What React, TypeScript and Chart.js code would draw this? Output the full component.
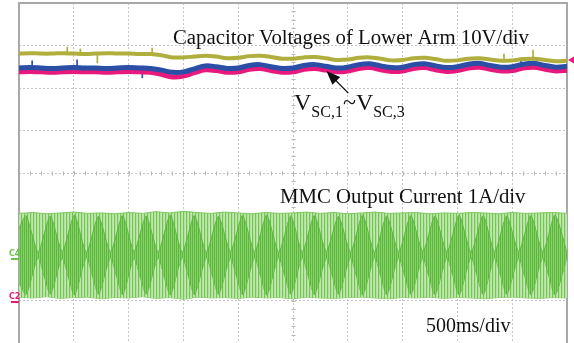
import React, { useEffect, useRef } from "react";
import { Chart, registerables } from "chart.js";

Chart.register(...registerables);

// ---- Data (x in divisions, 500 ms/div; y in divisions) ----
const timeDiv = [
  0, 0.2, 0.4, 0.6, 0.8, 1.0, 1.2, 1.4, 1.6, 1.8, 2.0, 2.2, 2.4, 2.6, 2.8, 3.0, 3.2, 3.4, 3.6, 3.8,
  4.0, 4.2, 4.4, 4.6, 4.8, 5.0, 5.2, 5.4, 5.6, 5.8, 6.0, 6.2, 6.4, 6.6, 6.8, 7.0, 7.2, 7.4, 7.6, 7.8,
  8.0, 8.2, 8.4, 8.6, 8.8, 9.0, 9.2, 9.4, 9.6, 9.8, 10.0,
];
const yellowTrace = [
  2.81, 2.82, 2.81, 2.81, 2.82, 2.81, 2.80, 2.81, 2.82, 2.81, 2.81, 2.80, 2.80, 2.77, 2.72, 2.72, 2.74, 2.76, 2.74, 2.70,
  2.71, 2.75, 2.76, 2.73, 2.69, 2.69, 2.72, 2.73, 2.70, 2.66, 2.67, 2.71, 2.72, 2.69, 2.65, 2.66, 2.70, 2.71, 2.68, 2.64,
  2.65, 2.69, 2.70, 2.67, 2.64, 2.65, 2.68, 2.69, 2.66, 2.63, 2.64,
];
const blueTrace = [
  2.47, 2.48, 2.47, 2.46, 2.47, 2.48, 2.47, 2.47, 2.46, 2.47, 2.48, 2.47, 2.46, 2.42, 2.37, 2.38, 2.45, 2.52, 2.50, 2.46,
  2.47, 2.53, 2.55, 2.50, 2.46, 2.47, 2.53, 2.55, 2.51, 2.47, 2.49, 2.55, 2.57, 2.52, 2.48, 2.49, 2.55, 2.57, 2.52, 2.48,
  2.50, 2.56, 2.58, 2.53, 2.49, 2.50, 2.56, 2.58, 2.53, 2.49, 2.51,
];
const pinkTrace = [
  2.38, 2.39, 2.38, 2.37, 2.38, 2.39, 2.38, 2.38, 2.37, 2.38, 2.39, 2.38, 2.37, 2.32, 2.26, 2.28, 2.36, 2.43, 2.41, 2.37,
  2.38, 2.44, 2.46, 2.41, 2.37, 2.38, 2.44, 2.46, 2.42, 2.38, 2.40, 2.46, 2.48, 2.43, 2.39, 2.40, 2.46, 2.48, 2.43, 2.39,
  2.41, 2.47, 2.49, 2.44, 2.40, 2.41, 2.47, 2.49, 2.44, 2.40, 2.42,
];

const yellowSpikeX = [0.88, 1.12, 1.43, 2.43, 8.85, 9.38];
const yellowSpikeLo = [2.80, 2.80, 2.59, 2.79, 2.64, 2.66];
const yellowSpikeHi = [2.96, 2.92, 2.80, 2.94, 2.80, 2.89];
const blueSpikeX = [0.24, 1.06, 2.25, 9.16];
const blueSpikeLo = [2.46, 2.46, 2.24, 2.52];
const blueSpikeHi = [2.64, 2.66, 2.45, 2.66];

const bandX = [
  0, 0.25, 0.5, 0.75, 1.0, 1.25, 1.5, 1.75, 2.0, 2.25, 2.5, 2.75, 3.0, 3.25, 3.5, 3.75, 4.0, 4.25, 4.5, 4.75,
  5.0, 5.25, 5.5, 5.75, 6.0, 6.25, 6.5, 6.75, 7.0, 7.25, 7.5, 7.75, 8.0, 8.25, 8.5, 8.75, 9.0, 9.25, 9.5, 9.75, 10.0,
];
const currentUpper = [
  -0.95, -0.93, -0.96, -0.94, -0.92, -0.95, -0.94, -0.96, -0.93, -0.95, -0.91, -0.94, -0.90, -0.93, -0.95, -0.92, -0.94, -0.96, -0.93, -0.95,
  -0.94, -0.92, -0.95, -0.93, -0.96, -0.94, -0.92, -0.95, -0.94, -0.93, -0.96, -0.94, -0.95, -0.93, -0.94, -0.96, -0.93, -0.95, -0.94, -0.93, -0.95,
];
const currentLower = [
  -2.92, -2.94, -2.91, -2.95, -2.93, -2.92, -2.96, -2.93, -2.94, -2.91, -2.95, -2.93, -2.97, -2.92, -2.94, -2.93, -2.95, -2.92, -2.94, -2.93,
  -2.96, -2.92, -2.94, -2.95, -2.93, -2.92, -2.94, -2.96, -2.93, -2.94, -2.92, -2.95, -2.93, -2.94, -2.96, -2.93, -2.92, -2.94, -2.95, -2.93, -2.94,
];

const lensX = [
  0, 0.13, 0.35, 0.57, 0.79, 1.01, 1.23, 1.45, 1.67, 1.89, 2.10, 2.32, 2.54, 2.76, 2.98, 3.20, 3.42, 3.64, 3.86, 4.08,
  4.30, 4.52, 4.74, 4.96, 5.17, 5.39, 5.61, 5.83, 6.05, 6.27, 6.49, 6.71, 6.93, 7.15, 7.37, 7.59, 7.81, 8.03, 8.25, 8.47,
  8.68, 8.90, 9.12, 9.34, 9.56, 9.78, 10.0,
];
const lensUpper = [
  -1.30, -1.00, -1.86, -1.01, -1.85, -0.99, -1.87, -1.02, -1.86, -1.00, -1.85, -1.01, -1.86, -0.99, -1.87, -1.00, -1.86, -1.02, -1.85, -1.00,
  -1.86, -0.99, -1.87, -1.01, -1.86, -1.00, -1.85, -1.02, -1.86, -0.99, -1.87, -1.01, -1.86, -1.00, -1.85, -1.01, -1.86, -0.99, -1.87, -1.00,
  -1.86, -1.01, -1.85, -1.00, -1.86, -0.99, -1.87,
];
const lensLower = [
  -2.58, -2.86, -2.00, -2.85, -2.01, -2.87, -1.99, -2.85, -2.00, -2.86, -2.01, -2.85, -2.00, -2.87, -1.99, -2.86, -2.00, -2.85, -2.01, -2.86,
  -2.00, -2.87, -1.99, -2.85, -2.00, -2.86, -2.01, -2.85, -2.00, -2.87, -1.99, -2.86, -2.00, -2.85, -2.01, -2.86, -2.00, -2.87, -1.99, -2.86,
  -2.00, -2.85, -2.01, -2.86, -2.00, -2.87, -1.99,
];

const topTitle = "Capacitor Voltages of Lower Arm 10V/div";
const bottomTitle = "MMC Output Current 1A/div";
const timeBase = "500ms/div";
const vLabelMain = "V";
const vSub1 = "SC,1";
const vSub3 = "SC,3";
const tilde = "~";
const ch4Label = "C4";
const ch2Label = "C2";
const ch4Level = -2.02;
const ch2Level = -3.03;
const rightMarkerLevel = 2.66;
const arrowTail = { x: 6.01, y: 1.88 };
const arrowTip = { x: 5.61, y: 2.40 };

const zip = (xs: number[], ys: number[]) => xs.map((x, i) => ({ x, y: ys[i] }));
const zipFloat = (xs: number[], lo: number[], hi: number[]) => xs.map((x, i) => ({ x, y: [lo[i], hi[i]] }));

function stripes(colors: string[]): CanvasPattern | string {
  const c = document.createElement("canvas");
  c.width = colors.length;
  c.height = 2;
  const g = c.getContext("2d");
  if (!g) return colors[0];
  colors.forEach((col, i) => {
    g.fillStyle = col;
    g.fillRect(i, 0, 1, 2);
  });
  const p = g.createPattern(c, "repeat");
  return p || colors[0];
}

const SERIF = '"Liberation Serif", "Times New Roman", serif';

const scopePlugin = {
  id: "scopeDecor",
  beforeDatasetsDraw(chart: any) {
    const { ctx, chartArea, scales } = chart;
    const xs = scales.x;
    const ys = scales.y;
    ctx.save();
    ctx.strokeStyle = "#b4b4b4";
    ctx.lineWidth = 1;
    const y0 = Math.round(ys.getPixelForValue(0)) + 0.5;
    const x0 = Math.round(xs.getPixelForValue(5)) + 0.5;
    ctx.beginPath();
    for (let v = 0; v <= 50; v++) {
      const px = Math.round(xs.getPixelForValue(v * 0.2)) + 0.5;
      ctx.moveTo(px, y0 - 2);
      ctx.lineTo(px, y0 + 2);
    }
    for (let v = 0; v <= 40; v++) {
      const py = Math.round(ys.getPixelForValue(-4 + v * 0.2)) + 0.5;
      ctx.moveTo(x0 - 2, py);
      ctx.lineTo(x0 + 2, py);
    }
    ctx.stroke();
    // frame
    ctx.strokeStyle = "#a8a8a8";
    ctx.lineWidth = 2;
    ctx.strokeRect(chartArea.left, chartArea.top, chartArea.right - chartArea.left, chartArea.bottom - chartArea.top + 4);
    ctx.restore();
  },
  afterDraw(chart: any) {
    const { ctx, scales, chartArea } = chart;
    const xs = scales.x;
    const ys = scales.y;
    ctx.save();
    ctx.fillStyle = "#111";
    ctx.textBaseline = "alphabetic";
    ctx.font = `20.8px ${SERIF}`;
    ctx.fillText(topTitle, 173, 44);
    ctx.fillText(bottomTitle, 280, 203);
    ctx.font = `20px ${SERIF}`;
    ctx.fillText(timeBase, 426, 332);

    // V_SC,1 ~ V_SC,3
    let cx = 294;
    const base = 110;
    ctx.font = `24px ${SERIF}`;
    ctx.fillText(vLabelMain, cx, base);
    cx += ctx.measureText(vLabelMain).width;
    ctx.font = `16px ${SERIF}`;
    ctx.fillText(vSub1, cx, base + 7);
    cx += ctx.measureText(vSub1).width;
    ctx.font = `24px ${SERIF}`;
    ctx.fillText(tilde, cx, base);
    cx += ctx.measureText(tilde).width;
    ctx.fillText(vLabelMain, cx, base);
    cx += ctx.measureText(vLabelMain).width;
    ctx.font = `16px ${SERIF}`;
    ctx.fillText(vSub3, cx, base + 7);

    // arrow
    const tx = xs.getPixelForValue(arrowTail.x);
    const ty = ys.getPixelForValue(arrowTail.y);
    const hx = xs.getPixelForValue(arrowTip.x);
    const hy = ys.getPixelForValue(arrowTip.y);
    const ang = Math.atan2(hy - ty, hx - tx);
    ctx.strokeStyle = "#111";
    ctx.lineWidth = 1.3;
    ctx.beginPath();
    ctx.moveTo(tx, ty);
    ctx.lineTo(hx - 8 * Math.cos(ang), hy - 8 * Math.sin(ang));
    ctx.stroke();
    ctx.beginPath();
    ctx.moveTo(hx, hy);
    ctx.lineTo(hx - 14 * Math.cos(ang) + 5.5 * Math.sin(ang), hy - 14 * Math.sin(ang) - 5.5 * Math.cos(ang));
    ctx.lineTo(hx - 14 * Math.cos(ang) - 5.5 * Math.sin(ang), hy - 14 * Math.sin(ang) + 5.5 * Math.cos(ang));
    ctx.closePath();
    ctx.fill();

    // channel markers
    const left = chartArea.left;
    const p4 = Math.round(ys.getPixelForValue(ch4Level));
    const p2 = Math.round(ys.getPixelForValue(ch2Level));
    ctx.lineWidth = 2;
    ctx.strokeStyle = "#6cc04a";
    ctx.beginPath();
    ctx.moveTo(left - 8, p4);
    ctx.lineTo(left, p4);
    ctx.stroke();
    ctx.strokeStyle = "#e8197d";
    ctx.beginPath();
    ctx.moveTo(left - 8, p2);
    ctx.lineTo(left, p2);
    ctx.stroke();
    ctx.font = `bold 8px "DejaVu Sans", sans-serif`;
    ctx.fillStyle = "#6cc04a";
    ctx.fillText(ch4Label, left - 10, p4 - 3);
    ctx.fillStyle = "#e8197d";
    ctx.fillText(ch2Label, left - 10, p2 - 3);

    // right level marker
    const pr = ys.getPixelForValue(rightMarkerLevel);
    const right = chartArea.right;
    ctx.fillStyle = "#e8197d";
    ctx.beginPath();
    ctx.moveTo(right + 1, pr);
    ctx.lineTo(right + 8, pr - 4);
    ctx.lineTo(right + 8, pr + 4);
    ctx.closePath();
    ctx.fill();
    ctx.restore();
  },
};

export default function App() {
  const ref = useRef<HTMLCanvasElement | null>(null);
  useEffect(() => {
    if (!ref.current) return;
    const bandPattern = stripes(["#72c552", "#b4e1a0", "#c2e7b1"]);
    const lensPattern = stripes(["#5cb93e", "#86cf69"]);
    const gridCommon = {
      color: "#c6c6c6",
      lineWidth: 1,
      drawTicks: false,
      offset: false,
    };
    const chart = new Chart(ref.current, {
      type: "line",
      data: {
        datasets: [
          {
            label: "Vsc yellow",
            data: zip(timeDiv, yellowTrace),
            borderColor: "#b0ae3c",
            borderWidth: 4,
            pointRadius: 0,
            tension: 0.35,
            fill: false,
          },
          {
            label: "Vsc blue",
            data: zip(timeDiv, blueTrace),
            borderColor: "#2b4fa6",
            borderWidth: 5,
            pointRadius: 0,
            tension: 0.35,
            fill: false,
          },
          {
            label: "Vsc pink",
            data: zip(timeDiv, pinkTrace),
            borderColor: "#e8197d",
            borderWidth: 5,
            pointRadius: 0,
            tension: 0.35,
            fill: false,
          },
          {
            type: "bar",
            label: "yellow spikes",
            data: zipFloat(yellowSpikeX, yellowSpikeLo, yellowSpikeHi) as any,
            backgroundColor: "#b0ae3c",
            barThickness: 1,
            grouped: false,
          } as any,
          {
            type: "bar",
            label: "blue spikes",
            data: zipFloat(blueSpikeX, blueSpikeLo, blueSpikeHi) as any,
            backgroundColor: "#2b4fa6",
            barThickness: 1,
            grouped: false,
          } as any,
          {
            label: "lens upper",
            data: zip(lensX, lensUpper),
            borderColor: "#5cb93e",
            borderWidth: 1,
            pointRadius: 0,
            tension: 0.2,
            fill: "+1",
            backgroundColor: lensPattern as any,
          },
          {
            label: "lens lower",
            data: zip(lensX, lensLower),
            borderColor: "#5cb93e",
            borderWidth: 1,
            pointRadius: 0,
            tension: 0.2,
            fill: false,
          },
          {
            label: "current upper",
            data: zip(bandX, currentUpper),
            borderColor: "#7cc85c",
            borderWidth: 1,
            pointRadius: 0,
            tension: 0,
            fill: "+1",
            backgroundColor: bandPattern as any,
          },
          {
            label: "current lower",
            data: zip(bandX, currentLower),
            borderColor: "#7cc85c",
            borderWidth: 1,
            pointRadius: 0,
            tension: 0,
            fill: false,
          },
        ],
      },
      options: {
        animation: false,
        responsive: false,
        devicePixelRatio: 1,
        layout: { padding: { left: 19, top: 3, right: 7, bottom: 0 } },
        plugins: {
          legend: { display: false },
          tooltip: { enabled: false },
        },
        scales: {
          x: {
            type: "linear",
            min: 0,
            max: 10,
            offset: false,
            ticks: { display: false, stepSize: 1 },
            grid: gridCommon,
            border: { display: false, dash: [2, 2] },
          },
          y: {
            type: "linear",
            min: -4,
            max: 4,
            ticks: { display: false, stepSize: 1 },
            grid: gridCommon,
            border: { display: false, dash: [2, 2] },
          },
        },
      },
      plugins: [scopePlugin],
    });
    return () => chart.destroy();
  }, []);
  return (
    <div style={{ position: "absolute", left: 0, top: 0, width: 574, height: 343, background: "#fff" }}>
      <canvas ref={ref} width={574} height={343} style={{ display: "block" }} />
    </div>
  );
}
